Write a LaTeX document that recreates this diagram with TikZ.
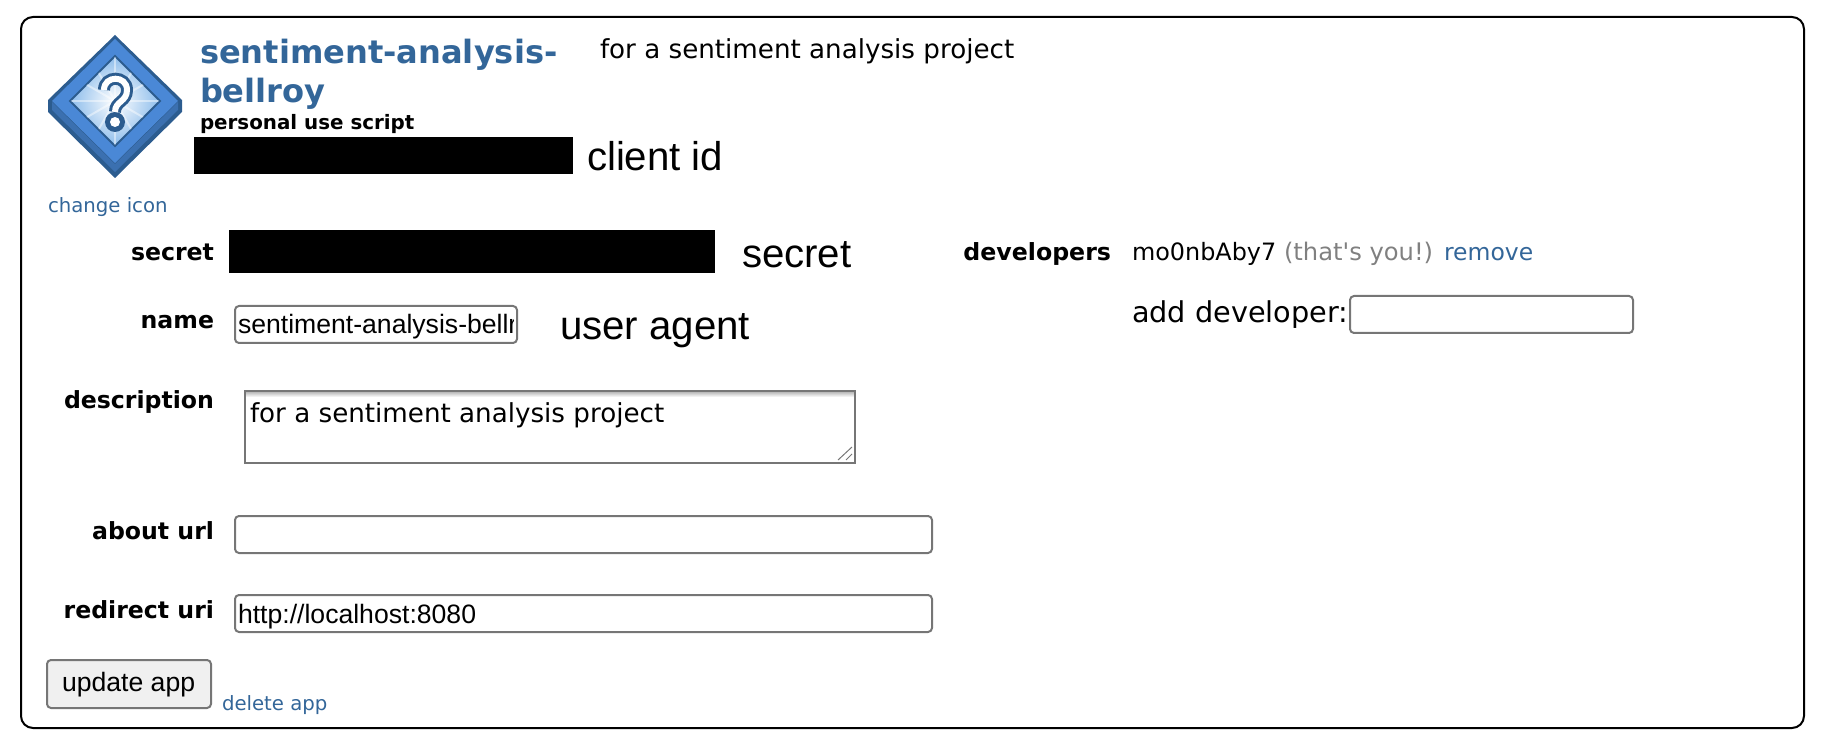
\documentclass[tikz,border=0pt]{standalone}
\usepackage{fontspec}
\setmainfont{DejaVu Sans}
\newfontfamily\helv{Liberation Sans}
\usepackage{tikz}
\definecolor{linkblue}{HTML}{336699}
\definecolor{iconedge}{HTML}{2C5C8F}
\definecolor{iconface}{HTML}{4A88D6}
\definecolor{iconside}{HTML}{3B70B0}
\definecolor{iconglow}{HTML}{8CBCEB}
\definecolor{fieldgray}{HTML}{767676}

\begin{document}
\begin{tikzpicture}[x=0.5pt,y=-0.5pt,
    txt/.style={anchor=base west,inner sep=0pt,outer sep=0pt},
    txtr/.style={anchor=base east,inner sep=0pt,outer sep=0pt},
    rowlabel/.style={txtr,font=\fontsize{11.8}{14}\selectfont\bfseries},
    link/.style={txt,text=linkblue,font=\fontsize{9.85}{12}\selectfont},
    note/.style={txt,font=\helv\fontsize{20.1}{22}\selectfont},
    field/.style={txt,font=\helv\fontsize{13.3}{15}\selectfont},
    inputbox/.style={draw=fieldgray,line width=1pt,rounded corners=2pt},
    redact/.style={fill=black}]

  \useasboundingbox (0,0) rectangle (1826,748);

  % card
  \draw[line width=1pt,rounded corners=6pt] (21,17) rectangle (1804,728);

  % icon
  \fill[iconedge] (115,35) -- (182,100) -- (182,112) -- (115,178) -- (48,112) -- (48,100) -- cycle;
  \fill[iconside] (115,164) -- (178,102) -- (178,110) -- (115,172) -- (52,110) -- (52,102) -- cycle;
  \fill[iconface] (115,39) -- (178,101) -- (115,163) -- (52,101) -- cycle;
  \draw[iconedge,line width=1pt,inner color=white,outer color=iconglow]
    (115,56) -- (160,101) -- (115,146) -- (70,101) -- cycle;
  \begin{scope}
    \clip (115,57) -- (159,101) -- (115,145) -- (71,101) -- cycle;
    \foreach \ang in {0,30,...,330}
      \draw[white,opacity=0.45,line width=1pt] (115,101) -- ++(\ang:45);
  \end{scope}
  \draw[iconedge,line width=6pt] (104,90) .. controls (104,75) and (127,75) .. (127,90)
    .. controls (127,102) and (115,101) .. (115,112);
  \fill[iconedge] (115,122) circle (10);
  \draw[white,line width=3pt] (104,90) .. controls (104,75) and (127,75) .. (127,90)
    .. controls (127,102) and (115,101) .. (115,112);
  \fill[white] (115,122) circle (5);

  % header
  \node[txt,text=linkblue,font=\fontsize{16.05}{18}\selectfont\bfseries] (title) at (200,64) {sentiment-analysis-};
  \node[txt,text=linkblue,font=\fontsize{16.05}{18}\selectfont\bfseries] (titleb) at (200,103) {bellroy};
  \node[txt,font=\fontsize{9.93}{11}\selectfont\bfseries] (kind) at (200,130) {personal use script};
  \node[txt,font=\fontsize{13.08}{15}\selectfont] (about) at (600,59) {for a sentiment analysis project};
  \node[link] (icon) at (48,213) {change icon};

  % client id
  \fill[redact] (194,137) rectangle (573,174);
  \node[note] (clientid) at (587,171) {client id};

  % left column
  \node[rowlabel] (secret) at (214,261) {secret};
  \fill[redact] (229,230) rectangle (715,273);
  \node[note] (secretnote) at (742,268) {secret};

  \node[rowlabel] (name) at (214,329) {name};
  \draw[inputbox] (235,306) rectangle (517,343);
  \begin{scope}
    \clip (237,308) rectangle (513,341);
    \node[field] (namevalue) at (238,334) {sentiment-analysis-bellroy};
  \end{scope}
  \node[note] (useragent) at (560,340) {user agent};

  \node[rowlabel] (description) at (214,409) {description};
  \shade[top color=fieldgray!60,bottom color=white] (245,391) rectangle (855,397);
  \draw[fieldgray,line width=1pt] (245,391) rectangle (855,463);
  \node[txt,font=\fontsize{13.08}{15}\selectfont] (descvalue) at (250,423) {for a sentiment analysis project};
  \draw[fieldgray,line width=0.5pt] (838,460) -- (852,447) (846,460) -- (852,454);

  \node[rowlabel] (abouturl) at (214,539) {about url};
  \draw[inputbox] (235,516) rectangle (932,553);

  \node[rowlabel] (redirect) at (214,618) {redirect uri};
  \draw[inputbox] (235,595) rectangle (932,632);
  \node[field] (redirectvalue) at (238,623) {http://localhost:8080};

  \draw[inputbox,fill=black!6] (47,660) rectangle (211,708);
  \node[field] (update) at (62,691) {update app};
  \node[link] (delete) at (222,710) {delete app};

  % developers
  \node[txtr,font=\fontsize{11.83}{14}\selectfont\bfseries] (developers) at (1111,261) {developers};
  \node[txt,font=\fontsize{11.95}{14}\selectfont] (user) at (1132,261) {mo0nbAby7};
  \node[txt,text=gray,font=\fontsize{12.1}{14}\selectfont] (you) at (1284,261) {(that\textquotesingle s you!)};
  \node[link,font=\fontsize{11.75}{14}\selectfont] (remove) at (1444,261) {remove};
  \node[txt,font=\fontsize{14.36}{16}\selectfont] (adddev) at (1132,323) {add developer:};
  \draw[inputbox] (1350,296) rectangle (1633,333);
\end{tikzpicture}
\end{document}
